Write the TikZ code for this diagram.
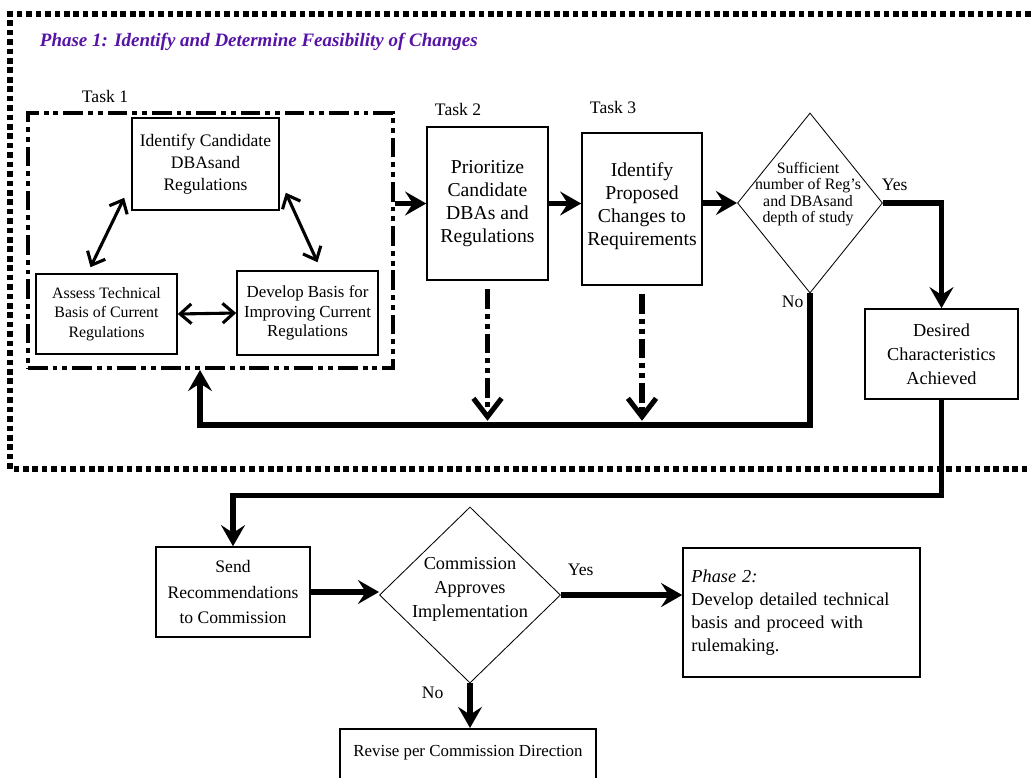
\documentclass[tikz,border=0pt]{standalone}
\usepackage{fontspec}
\setmainfont{Liberation Serif}
\usetikzlibrary{arrows.meta, shapes.geometric}
\definecolor{phasepurple}{RGB}{85,20,165}

\begin{document}
\begin{tikzpicture}[
      x=0.025cm, y=-0.025cm,
      box/.style={draw, line width=1.1pt, align=center, inner sep=2pt},
      decision/.style={draw, diamond, line width=0.6pt, inner sep=0pt},
      lbl/.style={anchor=base west, font=\fontsize{12.5}{14}\selectfont},
      flow/.style={line width=3.6pt, -{Stealth[length=15pt, width=17pt, inset=5.5pt]}},
      link/.style={line width=2.2pt, {Straight Barb[length=8pt, width=14pt]}-{Straight Barb[length=8pt, width=14pt]}},
      dashdot/.style={dash pattern=on 14pt off 3.5pt on 3.5pt off 3.5pt on 3.5pt off 3.5pt},
      feed/.style={dashdot, line width=3.6pt, -{Straight Barb[length=13pt, width=20pt]}, shorten <=6pt, shorten >=3pt}
    ]
      \useasboundingbox (0,0) rectangle (1031,777);

      \draw[line width=3.6pt, dash pattern=on 4pt off 2.7pt] (1040,14) -- (10,14) -- (10,469) -- (1040,469);
      \node[anchor=base west, text=phasepurple, font=\fontsize{13.5}{16}\selectfont\bfseries\itshape] (title) at (35,46) {Phase 1: Identify and Determine Feasibility of Changes};

      \node[draw, dashdot, line width=2.8pt, minimum width=9.125cm, minimum height=6.375cm] (taskone) at (210.5,240.5) {};
      \node[lbl] (lblone) at (77,102) {Task 1};
      \node[lbl] (lbltwo) at (430,115) {Task 2};
      \node[lbl] (lblthree) at (585,113) {Task 3};

      \node[box, minimum width=3.675cm, minimum height=2.3cm, font=\fontsize{12.5}{15.5}\selectfont] (idbox) at (205.5,164) {Identify Candidate\\DBAsand\\Regulations};
      \node[box, minimum width=3.525cm, minimum height=2cm, font=\fontsize{11.3}{14}\selectfont] (assess) at (106.5,314) {Assess Technical\\Basis of Current\\Regulations};
      \node[box, minimum width=3.525cm, minimum height=2.1cm, font=\fontsize{12}{14}\selectfont] (develop) at (307.5,313) {Develop Basis for\\Improving Current\\Regulations};

      \node[box, minimum width=3.025cm, minimum height=3.825cm, font=\fontsize{14}{16.5}\selectfont] (task2) at (487.5,203.5) {Prioritize\\Candidate\\DBAs and\\Regulations};
      \node[box, minimum width=3cm, minimum height=3.8cm, text depth=0.25cm, font=\fontsize{14}{16.5}\selectfont] (task3) at (642,209) {Identify\\Proposed\\Changes to\\Requirements};

      \node[decision, minimum width=3.625cm, minimum height=4.5cm] (dec1) at (810,203) {};
      \node[align=center, font=\fontsize{11.3}{11.6}\selectfont] (dec1txt) at (808,194) {Sufficient\\number of Reg’s\\and DBAsand\\depth of study};
      \node[lbl] (yesone) at (877,190) {Yes};
      \node[lbl] (noone) at (777,307) {No};

      \node[box, minimum width=3.825cm, minimum height=2.25cm, font=\fontsize{13}{17}\selectfont] (desired) at (941.5,354) {Desired\\Characteristics\\Achieved};

      \node[box, minimum width=3.85cm, minimum height=2.25cm, font=\fontsize{12.5}{18}\selectfont] (send) at (233,592) {Send\\Recommendations\\to Commission};
      \node[decision, minimum width=4.525cm, minimum height=4.4cm] (dec2) at (470,595) {};
      \node[align=center, font=\fontsize{13}{17}\selectfont] (dec2txt) at (470,589) {Commission\\Approves\\Implementation};
      \node[lbl] (yestwo) at (563,575) {Yes};
      \node[lbl] (notwo) at (417,698) {No};

      \node[box, minimum width=5.925cm, minimum height=3.225cm, text width=5.5cm, align=left, font=\fontsize{13}{16.5}\selectfont] (phase2) at (801.5,612.5) {\textit{Phase 2:}\\Develop detailed technical\\basis and proceed with\\rulemaking.};
      \node[box, anchor=north, minimum width=6.4cm, inner ysep=0.42cm, text depth=1cm, font=\fontsize{12}{14}\selectfont] (revise) at (468,728) {Revise per Commission Direction};

      \draw[link] ([shift={(-16,-6)}]assess.north) -- ([shift={(-7,-13)}]idbox.south west);
      \draw[link] ([shift={(6,-18)}]idbox.south east) -- ([shift={(10,-8)}]develop.north);
      \draw[link] (assess.east) -- (develop.west);

      \draw[flow] (taskone.east |- task2.west) -- (task2.west);
      \draw[flow] (task2.east) -- (task2.east -| task3.west);
      \draw[flow] (task3.east |- dec1.west) -- (dec1.west);
      \draw[flow] (dec1.east) -| (desired.north);

      \coordinate (loop) at (200,425);
      \draw[flow] (dec1.south) |- (loop) -- (loop |- taskone.south);
      \draw[feed] (task2.south) -- (task2.south |- loop);
      \draw[feed] (task3.south) -- (task3.south |- loop);

      \draw[flow] (desired.south) -- ++(0,96) -| (send.north);
      \draw[flow] (send.east) -- (send.east -| dec2.west);
      \draw[flow] (dec2.east) -- (dec2.east -| phase2.west);
      \draw[flow] (dec2.south) -- (dec2.south |- revise.north);
    \end{tikzpicture}
\end{document}
